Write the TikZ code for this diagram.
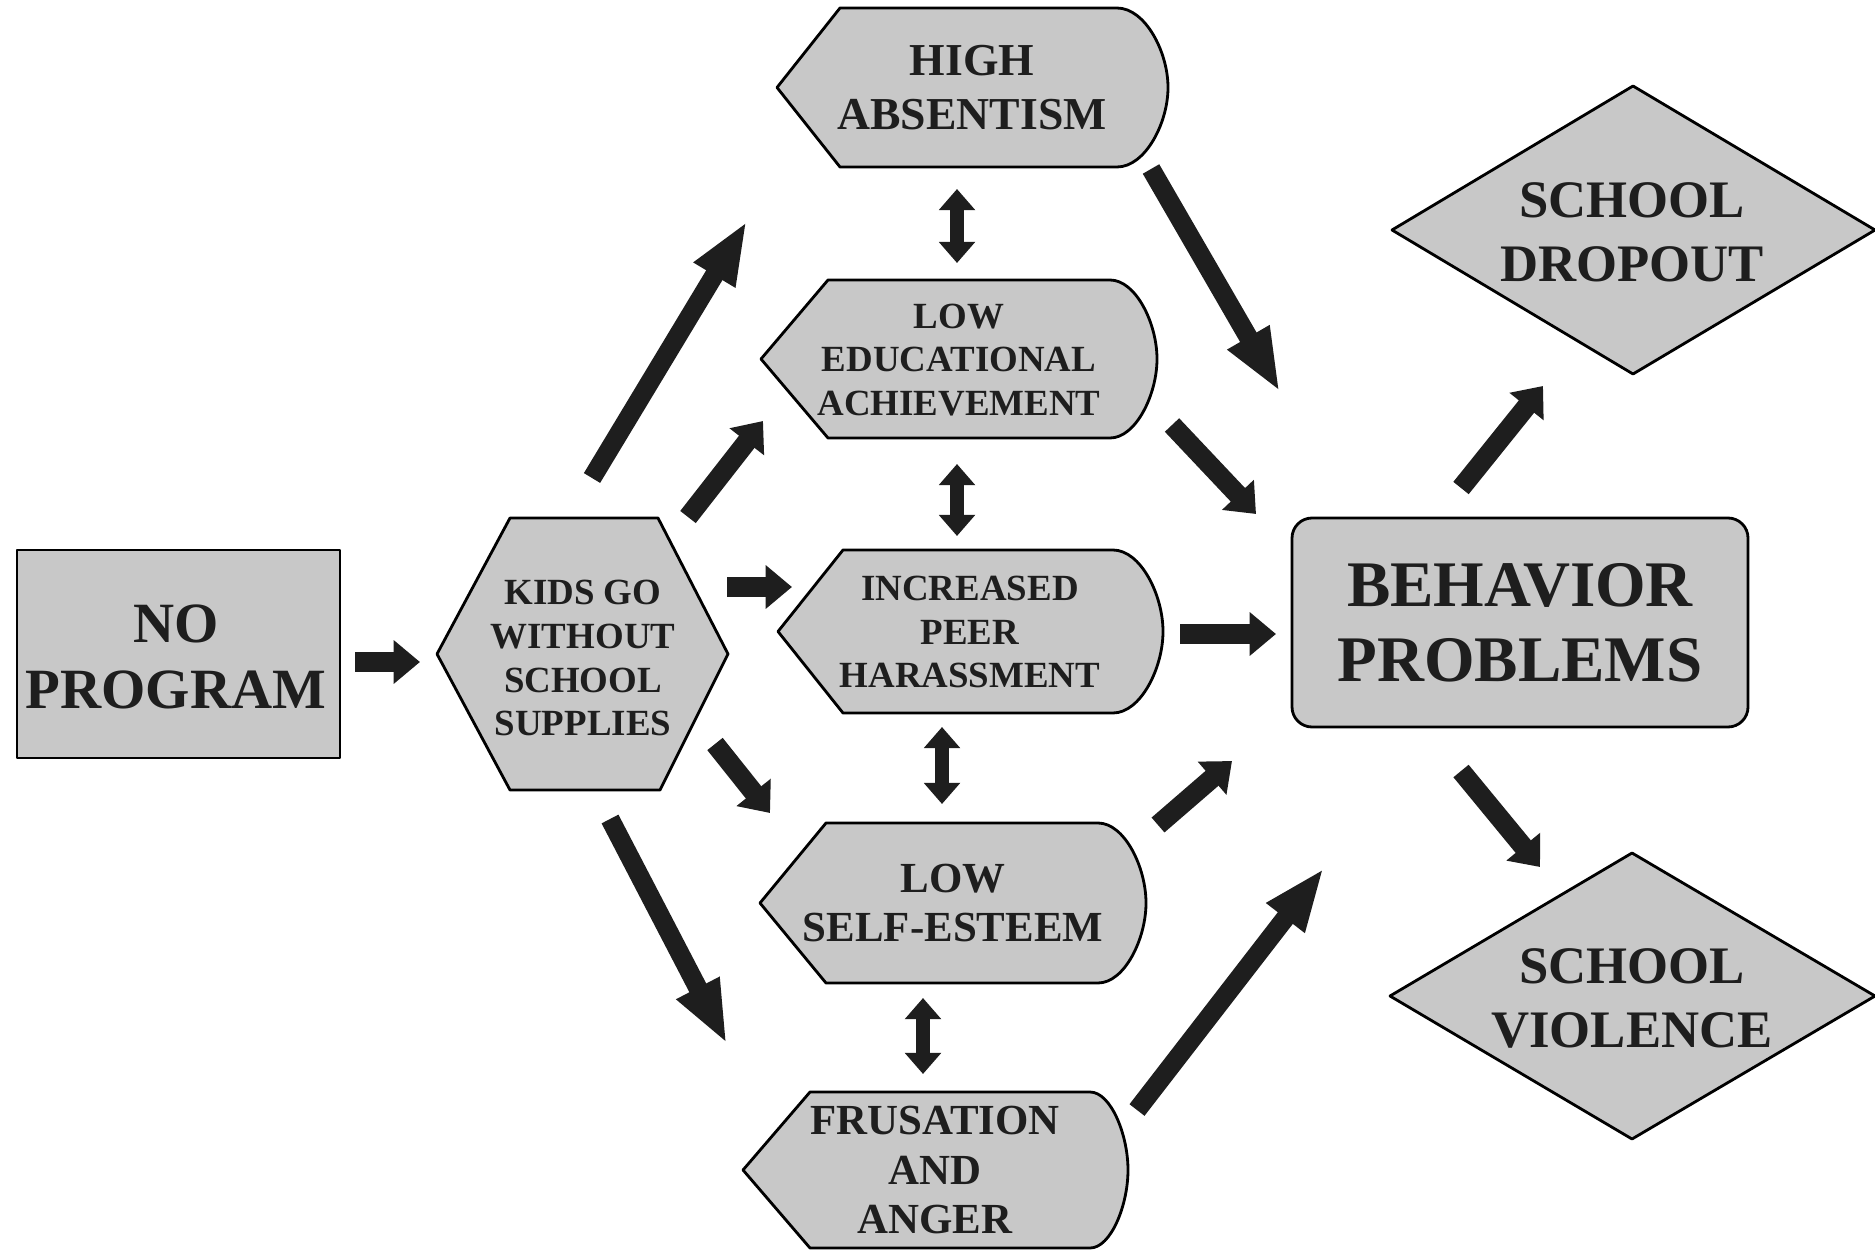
\documentclass[tikz,border=0pt]{standalone}
\usepackage{fontspec}
\setmainfont{Liberation Serif}
\usepackage{tikz}
\usetikzlibrary{calc}
\usetikzlibrary{arrows.meta}

\definecolor{boxgray}{RGB}{200,200,200}
\definecolor{inkblack}{RGB}{30,30,30}

% display box: tip, corner, end of top edge, right, top, bottom
\newcommand{\dispshape}[6]{%
  \filldraw[shapeline] (#1,{(#5+#6)/2}) -- (#2,#5) -- (#3,#5)
    .. controls ({#3+0.55*(#4-#3)},#5) and (#4,{#5+0.55*(#6-#5)/2}) .. (#4,{(#5+#6)/2})
    .. controls (#4,{#6-0.55*(#6-#5)/2}) and ({#3+0.55*(#4-#3)},#6) .. (#3,#6)
    -- (#2,#6) -- cycle;}

\begin{document}
\begin{tikzpicture}[x=0.1mm,y=-0.1mm,
    shapeline/.style={draw=black,fill=boxgray,line width=0.8pt,line join=round},
    boxtext/.style={align=center,text=inkblack,inner sep=0pt},
    fat/.style={draw=inkblack,line width=5.6pt,-{Triangle[length=7.5pt,width=12pt]}},
    longfat/.style={draw=inkblack,line width=5.4pt,-{Triangle[length=18pt,width=12.5pt]}},
    twofat/.style={draw=inkblack,line width=4.2pt,{Triangle[length=6pt,width=10pt]}-{Triangle[length=6pt,width=10pt]}}]
            \fill[white] (0,0) rectangle (1875,1252);
            \useasboundingbox (0,0) rectangle (1875,1252);

            \filldraw[shapeline] (17,550) rectangle (340,758);
            \node[boxtext,font=\bfseries\fontsize{16.2}{18.8}\selectfont] (noprog) at (176,657) {NO\\PROGRAM};

            \filldraw[shapeline] (437,654) -- (510,518) -- (658,518) -- (728,654) -- (660,790) -- (510,790) -- cycle;
            \node[boxtext,font=\bfseries\fontsize{10.5}{12.5}\selectfont] (kids) at (583,658) {KIDS GO\\WITHOUT\\SCHOOL\\SUPPLIES};

            \dispshape{777}{840}{1117}{1168}{8}{167}
            \node[boxtext,font=\bfseries\fontsize{13}{15.4}\selectfont] (absent) at (972,88) {HIGH\\ABSENTISM};
            \dispshape{761}{828}{1110}{1157}{280}{438}
            \node[boxtext,font=\bfseries\fontsize{10.5}{12.5}\selectfont] (achieve) at (959,360) {LOW\\EDUCATIONAL\\ACHIEVEMENT};
            \dispshape{778}{843}{1113}{1163}{550}{713}
            \node[boxtext,font=\bfseries\fontsize{10.5}{12.5}\selectfont] (peer) at (970,632) {INCREASED\\PEER\\HARASSMENT};
            \dispshape{760}{826}{1098}{1146}{823}{983}
            \node[boxtext,font=\bfseries\fontsize{12.2}{14.2}\selectfont] (esteem) at (953,903) {LOW\\SELF-ESTEEM};
            \dispshape{743}{810}{1090}{1128}{1092}{1248}
            \node[boxtext,font=\bfseries\fontsize{12.2}{14}\selectfont] (anger) at (935,1170) {FRUSATION\\AND\\ANGER};

            \filldraw[shapeline,rounded corners=5.7pt] (1292,518) rectangle (1748,727);
            \node[boxtext,font=\bfseries\fontsize{18.5}{21.3}\selectfont] (behave) at (1520,623) {BEHAVIOR\\PROBLEMS};

            \filldraw[shapeline] (1392,230) -- (1633,86) -- (1875,230) -- (1633,374) -- cycle;
            \node[boxtext,font=\bfseries\fontsize{15}{18.2}\selectfont] (dropout) at (1632,232) {SCHOOL\\DROPOUT};
            \filldraw[shapeline] (1390,996) -- (1632,853) -- (1875,996) -- (1632,1139) -- cycle;
            \node[boxtext,font=\bfseries\fontsize{15}{18.2}\selectfont] (violence) at (1632,998) {SCHOOL\\VIOLENCE};

            % arrow ends
            \coordinate (np-o) at (355,662);       \coordinate (kids-i) at (420,662);
            \coordinate (kids-o1) at (592,478);    \coordinate (absent-i) at (747,221);
            \coordinate (kids-o2) at (688,517);    \coordinate (achieve-i) at (763,421);
            \coordinate (kids-o3) at (727,587);    \coordinate (peer-i) at (792,587);
            \coordinate (kids-o4) at (715,744);    \coordinate (esteem-i) at (770,813);
            \coordinate (kids-o5) at (610,819);    \coordinate (anger-i) at (727,1044);
            \coordinate (absent-o) at (1151,169);  \coordinate (behave-i1) at (1280,392);
            \coordinate (achieve-o) at (1172,425); \coordinate (behave-i2) at (1256,514);
            \coordinate (peer-o) at (1180,634);    \coordinate (behave-i3) at (1276,634);
            \coordinate (esteem-o) at (1158,825);  \coordinate (behave-i4) at (1232,761);
            \coordinate (anger-o) at (1137,1110);  \coordinate (behave-i5) at (1324,868);
            \coordinate (behave-o1) at (1461,488); \coordinate (dropout-i) at (1543,386);
            \coordinate (behave-o2) at (1461,771); \coordinate (violence-i) at (1540,867);

            \draw[fat] (np-o) -- (kids-i);
            \draw[longfat] (kids-o1) -- (absent-i);
            \draw[fat] (kids-o2) -- (achieve-i);
            \draw[fat] (kids-o3) -- (peer-i);
            \draw[fat] (kids-o4) -- (esteem-i);
            \draw[longfat] (kids-o5) -- (anger-i);
            \draw[longfat] (absent-o) -- (behave-i1);
            \draw[fat] (achieve-o) -- (behave-i2);
            \draw[fat] (peer-o) -- (behave-i3);
            \draw[fat] (esteem-o) -- (behave-i4);
            \draw[longfat] (anger-o) -- (behave-i5);
            \draw[fat] (behave-o1) -- (dropout-i);
            \draw[fat] (behave-o2) -- (violence-i);

            % two-way links between the middle boxes
            \coordinate (l1) at (957,189); \coordinate (l2) at (957,263);
            \coordinate (l3) at (957,464); \coordinate (l4) at (957,536);
            \coordinate (l5) at (942,727); \coordinate (l6) at (942,804);
            \coordinate (l7) at (923,998); \coordinate (l8) at (923,1074);
            \draw[twofat] (l1) -- (l2);
            \draw[twofat] (l3) -- (l4);
            \draw[twofat] (l5) -- (l6);
            \draw[twofat] (l7) -- (l8);

        \end{tikzpicture}
\end{document}
